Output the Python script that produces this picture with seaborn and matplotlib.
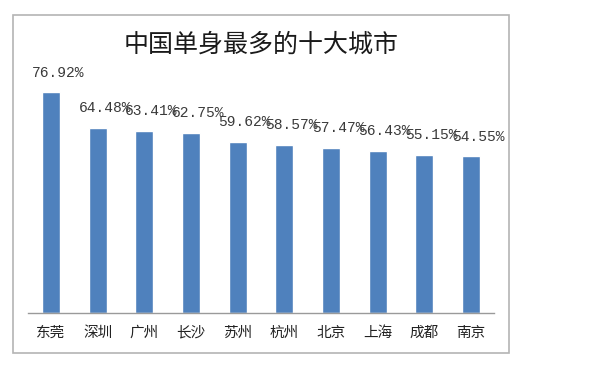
import matplotlib
matplotlib.use("Agg")
import matplotlib.pyplot as plt
from matplotlib.patches import Rectangle
import seaborn as sns
import pandas as pd

cities = ["东莞", "深圳", "广州", "长沙", "苏州", "杭州", "北京", "上海", "成都", "南京"]
values = [76.92, 64.48, 63.41, 62.75, 59.62, 58.57, 57.47, 56.43, 55.15, 54.55]
labels = ["76.92%", "64.48%", "63.41%", "62.75%", "59.62%", "58.57%", "57.47%", "56.43%", "55.15%", "54.55%"]
title = "中国单身最多的十大城市"

sns.set_theme(style="white")
plt.rcParams['font.family'] = ['Noto Sans CJK SC', 'DejaVu Sans']

df = pd.DataFrame({"city": cities, "value": values})

fig = plt.figure(figsize=(5.94, 3.66), dpi=100)
fig.patch.set_facecolor("white")

# outer frame
fig.add_artist(Rectangle((13/594, 1 - 353/366), (509-13)/594, (353-15)/366,
                         transform=fig.transFigure, fill=False,
                         edgecolor="#b4b4b4", linewidth=1.2))

ax = fig.add_axes([27.7/594, (366-313)/366, 466.7/594, 258.6/366])
sns.barplot(data=df, x="city", y="value", color="#4F81BD", width=0.39,
            saturation=1, ax=ax)
ax.set_xlim(-0.5, 9.5)
ax.set_ylim(0, 90)
ax.set_xlabel("")
ax.set_ylabel("")
ax.set_yticks([])
for s in ["top", "right", "left"]:
    ax.spines[s].set_visible(False)
ax.spines["bottom"].set_color("#9a9a9a")
ax.spines["bottom"].set_linewidth(1.0)
ax.tick_params(axis="x", length=0, pad=9, labelsize=10.5, labelcolor="#222222")
ax.set_facecolor("none")

for i, (v, lab) in enumerate(zip(values, labels)):
    ax.annotate(lab, (i, v), xytext=(5, 14), textcoords="offset points",
                ha="center", va="center", fontsize=10.5,
                family=["Liberation Mono", "DejaVu Sans Mono"], color="#3a3a3a")

fig.text(261/594, 1 - 45/366, title, ha="center", va="center",
         fontsize=18, color="#1a1a1a")

fig.savefig("out.png", dpi=100, facecolor="white")
